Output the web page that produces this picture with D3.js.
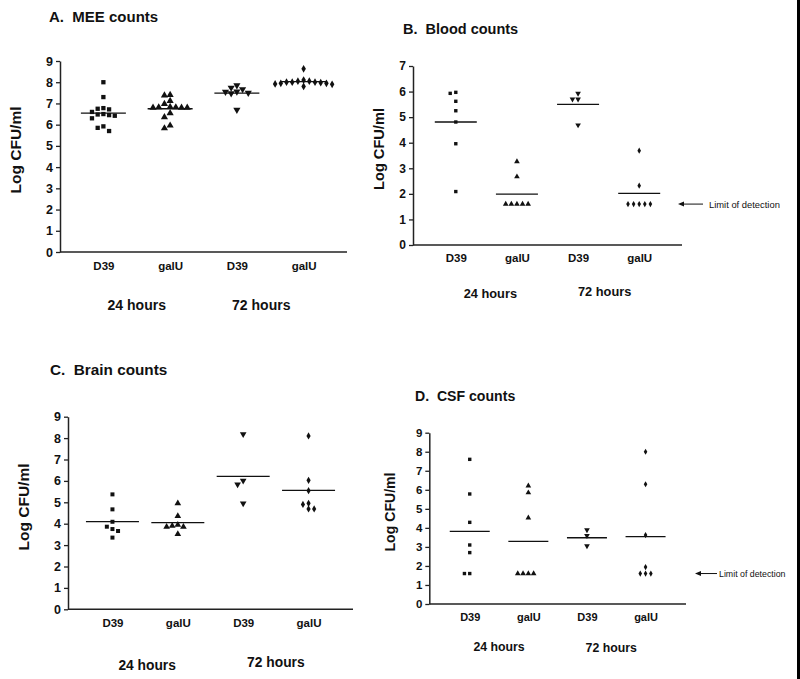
<!DOCTYPE html>
<html>
<head>
<meta charset="utf-8">
<script src="https://cdn.jsdelivr.net/npm/d3@7"></script>
<style>
  html, body { margin: 0; padding: 0; background: #fff; }
  svg { display: block; font-family: "Liberation Sans", Arial, Helvetica, sans-serif; }
  text { white-space: pre; fill: #111; }
</style>
</head>
<body>
<svg id="chart" width="800" height="679"></svg>
<script>
// ---------------- DATA ----------------
const categories = ["D39", "galU", "D39", "galU"];
const timeLabels = ["24 hours", "72 hours"];
const yTicks9 = [0, 1, 2, 3, 4, 5, 6, 7, 8, 9];
const yTicks7 = [0, 1, 2, 3, 4, 5, 6, 7];
const limitOfDetection = 1.6;
const limitLabel = "Limit of detection";
const yAxisLabel = "Log CFU/ml";

// A. MEE counts
const meeSeries = [
  [8.0, 7.3, 6.78, 6.75, 6.72, 6.6, 6.5, 6.48, 6.45, 6.42, 6.3, 5.92, 5.85, 5.7],
  [7.4, 7.38, 7.12, 6.98, 6.84, 6.82, 6.8, 6.8, 6.8, 6.82, 6.54, 6.35, 5.96, 5.83],
  [7.85, 7.74, 7.67, 7.56, 7.55, 7.5, 7.48, 6.7],
  [8.63, 8.1, 8.05, 8.05, 8.0, 8.0, 8.0, 7.98, 7.95, 7.95, 7.92, 7.9, 7.8]
];
const meeMeans = [6.54, 6.75, 7.49, 8.03];

// B. Blood counts
const bloodSeries = [
  [5.97, 5.93, 5.62, 5.25, 4.81, 3.96, 2.09],
  [3.26, 2.67, 1.6, 1.6, 1.6, 1.6, 1.6],
  [5.93, 5.7, 5.7, 4.69],
  [3.69, 2.32, 1.6, 1.6, 1.6, 1.6, 1.6]
];
const bloodMeans = [4.81, 1.99, 5.5, 2.02];

// C. Brain counts
const brainSeries = [
  [5.37, 4.67, 4.09, 3.86, 3.75, 3.66, 3.35],
  [4.95, 4.36, 3.95, 3.9, 3.85, 3.85, 3.52],
  [8.18, 6.01, 5.84, 4.95],
  [8.1, 6.03, 5.54, 4.95, 4.9, 4.69, 4.69]
];
const brainMeans = [4.1, 4.05, 6.21, 5.56];

// D. CSF counts
const csfSeries = [
  [7.6, 5.78, 4.29, 3.1, 2.7, 1.6, 1.6],
  [6.21, 5.85, 4.53, 1.6, 1.6, 1.6, 1.6],
  [3.89, 3.59, 3.05],
  [8.0, 6.29, 3.62, 1.94, 1.6, 1.6, 1.6]
];
const csfMeans = [3.82, 3.29, 3.48, 3.54];

// ---------------- LAYOUT ----------------
const panels = [
  { title: "A.  MEE counts", series: meeSeries, means: meeMeans, ticks: yTicks9,
    left: 60, right: 347, y0: 252, yTop: 61, pad: 0.65,
    titleX: 49, titleY: 22, titleSize: 15,
    ylabX: 15, ylabY: 150, ylabSize: 15.5,
    xlabY: 270, xlabSize: 11.5, tickSize: 12.5,
    timeY: [310, 310], timeDx: [0, -9], timeSize: 14,
    mark: 4.3, step: 5.7, meanHalf: 22.5, limit: false },
  { title: "B.  Blood counts", series: bloodSeries, means: bloodMeans, ticks: yTicks7,
    left: 413, right: 682, y0: 245, yTop: 66, pad: 0.7,
    titleX: 403, titleY: 34, titleSize: 14.5,
    ylabX: 379, ylabY: 149, ylabSize: 14.6,
    xlabY: 262, xlabSize: 11.5, tickSize: 12,
    timeY: [298, 296], timeDx: [4, -4], timeSize: 12.8,
    mark: 3.4, step: 5.6, meanHalf: 21, limit: true,
    arrowX1: 678, arrowX2: 703, limitTextX: 709, limitSize: 9.4 },
  { title: "C.  Brain counts", series: brainSeries, means: brainMeans, ticks: yTicks9,
    left: 68, right: 353, y0: 609.3, yTop: 416.7, pad: 0.68,
    titleX: 50, titleY: 375, titleSize: 15.3,
    ylabX: 23, ylabY: 507, ylabSize: 15.5,
    xlabY: 627, xlabSize: 11.5, tickSize: 12.5,
    timeY: [670, 667], timeDx: [2, 0], timeSize: 13.8,
    mark: 4, step: 5.6, meanHalf: 26.5, limit: false },
  { title: "D.  CSF counts", series: csfSeries, means: csfMeans, ticks: yTicks9,
    left: 429.3, right: 686, y0: 604, yTop: 432.7, pad: 0.69,
    titleX: 415, titleY: 401, titleSize: 14.1,
    ylabX: 389.5, ylabY: 512, ylabSize: 14.1,
    xlabY: 621, xlabSize: 11, tickSize: 11.5,
    timeY: [651, 652], timeDx: [0, -5], timeSize: 12.3,
    mark: 3.4, step: 5.3, meanHalf: 20, limit: true,
    arrowX1: 695, arrowX2: 717, limitTextX: 719, limitSize: 8.8 }
];

const svg = d3.select("#chart");
svg.append("rect").attr("width", 800).attr("height", 679).attr("fill", "#fff");

const symbolTypes = [d3.symbolSquare, d3.symbolTriangle, d3.symbolTriangle, d3.symbolDiamond];
const symbolArea = [1.0, 1.2, 1.2, 0.95];

panels.forEach(p => {
  const g = svg.append("g");
  const yMax = p.ticks[p.ticks.length - 1];
  const y = d3.scaleLinear().domain([0, yMax]).range([p.y0, p.yTop]);
  const x = d3.scalePoint().domain(d3.range(categories.length)).range([p.left, p.right]).padding(p.pad);

  // title
  g.append("text").attr("x", p.titleX).attr("y", p.titleY)
    .attr("font-size", p.titleSize).attr("font-weight", "bold").text(p.title);

  // y axis
  const yAxis = g.append("g").attr("transform", `translate(${p.left},0)`)
    .call(d3.axisLeft(y).tickValues(p.ticks).tickFormat(d3.format("d"))
      .tickSize(4).tickSizeOuter(0).tickPadding(3));
  yAxis.select(".domain").attr("stroke", "#222").attr("stroke-width", 1.5);
  yAxis.selectAll(".tick line").attr("stroke", "#222").attr("stroke-width", 1.3);
  yAxis.selectAll(".tick text").attr("font-size", p.tickSize).attr("font-weight", "bold")
    .attr("fill", "#111").attr("font-family", null);

  // x axis
  const xAxis = g.append("g").attr("transform", `translate(0,${p.y0})`)
    .call(d3.axisBottom(x).tickSize(0).tickSizeOuter(0).tickFormat(i => categories[i]));
  xAxis.select(".domain").attr("d", `M${p.left},0H${p.right}`)
    .attr("stroke", "#222").attr("stroke-width", 1.5);
  xAxis.selectAll(".tick text").attr("y", p.xlabY - p.y0).attr("dy", null)
    .attr("font-size", p.xlabSize).attr("font-weight", "bold").attr("fill", "#111")
    .attr("font-family", null);

  // y label
  g.append("text")
    .attr("transform", `translate(${p.ylabX},${p.ylabY}) rotate(-90)`)
    .attr("text-anchor", "middle").attr("dominant-baseline", "central")
    .attr("font-size", p.ylabSize).attr("font-weight", "bold").text(yAxisLabel);

  // time labels
  timeLabels.forEach((t, k) => {
    const cx = (x(2 * k) + x(2 * k + 1)) / 2 + p.timeDx[k];
    g.append("text").attr("x", cx).attr("y", p.timeY[k]).attr("text-anchor", "middle")
      .attr("font-size", p.timeSize).attr("font-weight", "bold").text(t);
  });

  // points with beeswarm-style horizontal spreading
  p.series.forEach((vals, gi) => {
    const placed = [];
    const d = p.step, thr = d * 0.92;
    const sorted = vals.slice().sort((a, b) => b - a);
    sorted.forEach(v => {
      const py = y(v);
      const cands = [0];
      for (let k = 1; k < 12; k++) { cands.push(-k * d, k * d); }
      let off = 0;
      for (const c of cands) {
        const clash = placed.some(q => Math.abs(q.py - py) < thr && Math.abs(q.off - c) < thr);
        if (!clash) { off = c; break; }
      }
      placed.push({ v, py, off });
    });
    const area = Math.pow(p.mark, 2) * symbolArea[gi];
    const sym = d3.symbol().type(symbolTypes[gi]).size(area);
    g.append("g").selectAll("path").data(placed).join("path")
      .attr("d", sym)
      .attr("transform", q => `translate(${x(gi) + q.off},${q.py})` + (gi === 2 ? " rotate(180)" : ""))
      .attr("fill", "#111");

    // mean line
    g.append("line")
      .attr("x1", x(gi) - p.meanHalf).attr("x2", x(gi) + p.meanHalf)
      .attr("y1", y(p.means[gi])).attr("y2", y(p.means[gi]))
      .attr("stroke", "#111").attr("stroke-width", 1.3);
  });

  // limit of detection annotation
  if (p.limit) {
    const ly = y(limitOfDetection);
    g.append("line").attr("x1", p.arrowX1 + 4).attr("x2", p.arrowX2)
      .attr("y1", ly).attr("y2", ly).attr("stroke", "#111").attr("stroke-width", 1);
    g.append("path")
      .attr("d", `M${p.arrowX1},${ly}L${p.arrowX1 + 6},${ly - 2.5}L${p.arrowX1 + 6},${ly + 2.5}Z`)
      .attr("fill", "#111");
    g.append("text").attr("x", p.limitTextX).attr("y", ly)
      .attr("dominant-baseline", "central")
      .attr("font-size", p.limitSize).text(limitLabel);
  }
});

// dark scan edge at the right border
svg.append("rect").attr("x", 797).attr("y", 0).attr("width", 3).attr("height", 679).attr("fill", "#000");
</script>
</body>
</html>
